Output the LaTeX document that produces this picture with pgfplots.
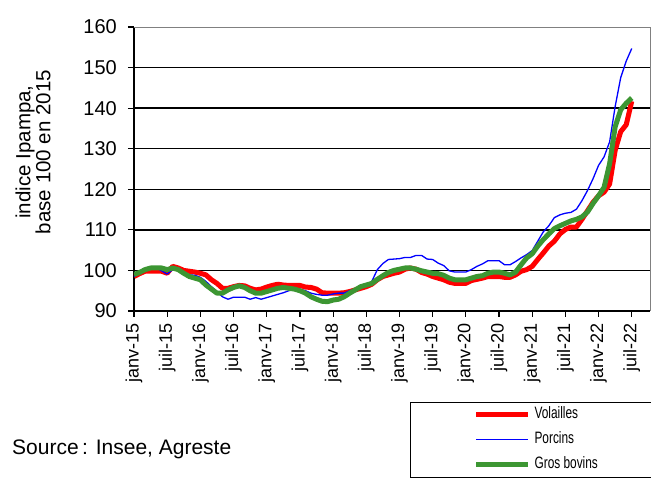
\documentclass[border=0pt]{standalone}
\usepackage{fontspec}
\setmainfont{Liberation Sans}
\newfontfamily\legfont{Liberation Sans}[FakeStretch=0.72]
\usepackage{pgfplots}
\usepackage{pgfplotstable}
\pgfplotsset{compat=1.18}

\definecolor{vol}{RGB}{255,0,0}
\definecolor{porc}{RGB}{0,0,255}
\definecolor{bov}{RGB}{60,150,50}

% month index (0 = janv-15), Volailles, Porcins, Gros bovins
\pgfplotstableread{
m  vol   porc  bov
0  98.5  98.5  99.0
1  99.2  99.5  99.5
2  99.8  100.2 100.2
3  99.8  100.6 100.6
4  99.8  100.6 100.6
5  99.8  99.9  100.6
6  99.3  99.1  100.2
7  101.0 100.2 100.6
8  100.6 100.0 100.2
9  100.0 99.3  99.3
10 99.8  98.9  98.5
11 99.6  98.8  98.1
12 99.3  98.3  97.7
13 98.9  97.3  96.4
14 97.7  96.0  95.4
15 96.8  94.8  94.4
16 95.6  93.5  94.4
17 95.6  92.9  95.2
18 96.0  93.4  95.8
19 96.3  93.4  96.2
20 96.2  93.4  95.8
21 95.6  92.9  95.0
22 95.2  93.3  94.4
23 95.4  92.9  94.4
24 95.9  93.3  94.8
25 96.3  93.7  95.2
26 96.6  94.1  95.6
27 96.4  94.5  95.8
28 96.3  95.0  95.6
29 96.3  95.4  95.4
30 96.3  95.4  95.0
31 95.9  95.0  94.4
32 95.8  94.4  93.5
33 95.4  94.1  92.9
34 94.5  93.9  92.4
35 94.4  93.9  92.3
36 94.4  94.2  92.7
37 94.4  94.4  92.9
38 94.5  94.4  93.5
39 94.8  95.0  94.4
40 95.2  95.4  95.2
41 95.6  96.0  96.0
42 96.0  96.4  96.4
43 96.6  97.3  96.8
44 97.7  100.2 97.8
45 98.5  101.7 98.7
46 98.9  102.7 99.5
47 99.3  102.8 100.0
48 99.6  102.9 100.3
49 100.3 103.2 100.6
50 100.6 103.2 100.6
51 100.3 103.7 100.3
52 99.5  103.7 99.9
53 99.1  102.8 99.6
54 98.5  102.7 99.3
55 98.1  101.8 99.2
56 97.7  101.2 98.8
57 97.1  99.9  98.1
58 96.8  99.6  97.7
59 96.8  99.6  97.7
60 96.8  99.6  97.7
61 97.5  100.2 98.1
62 97.8  101.0 98.5
63 98.1  101.6 98.7
64 98.5  102.4 99.3
65 98.5  102.4 99.6
66 98.5  102.4 99.6
67 98.3  101.4 99.3
68 98.3  101.4 98.9
69 98.9  102.2 99.6
70 99.8  103.1 101.4
71 100.2 103.9 103.1
72 101.0 104.9 104.1
73 102.7 107.2 106.0
74 104.3 109.5 107.6
75 106.0 111.0 109.0
76 107.2 113.0 110.3
77 109.0 113.7 111.0
78 110.1 114.1 111.6
79 110.7 114.3 112.2
80 110.7 115.1 112.6
81 112.6 117.2 113.2
82 114.7 119.7 114.4
83 116.8 122.6 116.5
84 118.4 125.9 118.4
85 119.3 128.0 120.5
86 121.3 131.7 126.3
87 129.6 140.4 135.4
88 134.2 147.5 139.6
89 135.9 151.6 141.2
90 141.7 154.7 142.5
}\ipampa

\begin{document}
\begin{tikzpicture}
\useasboundingbox (-134pt,-167pt) rectangle (517pt,311pt);
\begin{axis}[
    at={(0,0)}, anchor=south west,
    scale only axis,
    width  = 516pt,
    height = 284pt,
    xmin = 0, xmax = 93.3,
    ymin = 90, ymax = 160,
    axis lines = left,
    axis line style = {-, line width=1.4pt, black},
    tick align = outside,
    major tick length = 6pt,
    tick style = {line width=1.2pt, black},
    xtick = {0,6,...,90},
    xticklabels = {janv-15,juil-15,janv-16,juil-16,janv-17,juil-17,janv-18,juil-18,
                   janv-19,juil-19,janv-20,juil-20,janv-21,juil-21,janv-22,juil-22},
    x tick label style = {rotate=90, anchor=east, inner sep=0pt,
                          font=\fontsize{18}{18}\selectfont},
    xticklabel shift = 6pt,
    ytick = {90,100,...,150},
    extra y ticks = {160},
    extra y tick style = {grid=none},
    y tick label style = {inner sep=0pt, font=\fontsize{20}{20}\selectfont},
    yticklabel shift = 11pt,
    /pgf/number format/assume math mode=true,
    ymajorgrids,
    major grid style = {line width=1.4pt, black},
    legend cell align = left,
    legend image code/.code = {\draw[#1] (0pt,0pt) -- (52pt,0pt);},
    legend style = {
        at = {(0.535,-0.319)}, anchor = north west,
        draw = black, line width = 1pt,
        inner xsep = 63pt, inner ysep = 0pt,
        row sep = 0pt, column sep = 4pt,
        font = \legfont\fontsize{16.5}{16.5}\selectfont,
        nodes = {inner xsep=0pt, inner ysep=4.5pt, text height=12pt, text depth=4pt},
    },
    after end axis/.code = {
        \draw[gray, line width=1pt] (rel axis cs:0,1) -- (rel axis cs:1,1) -- (rel axis cs:1,0);
    },
]
\addplot[vol, line width=5pt, line join=round] table[x=m, y=vol] {\ipampa};
\addlegendentry{Volailles}
\addplot[porc, line width=1.3pt, line join=round] table[x=m, y=porc] {\ipampa};
\addlegendentry{Porcins}
\addplot[bov, line width=5pt, line join=round] table[x=m, y=bov] {\ipampa};
\addlegendentry{Gros bovins}
\end{axis}
\node[rotate=90, align=center, font=\fontsize{20.5}{20}\selectfont]
    at (-101pt,159pt) {indice Ipampa,\\base 100 en 2015};
\node[anchor=base west, inner sep=0pt, font=\fontsize{21}{21}\selectfont]
    at (-122pt,-144pt) {Source\,: Insee, Agreste};
\end{tikzpicture}
\end{document}
